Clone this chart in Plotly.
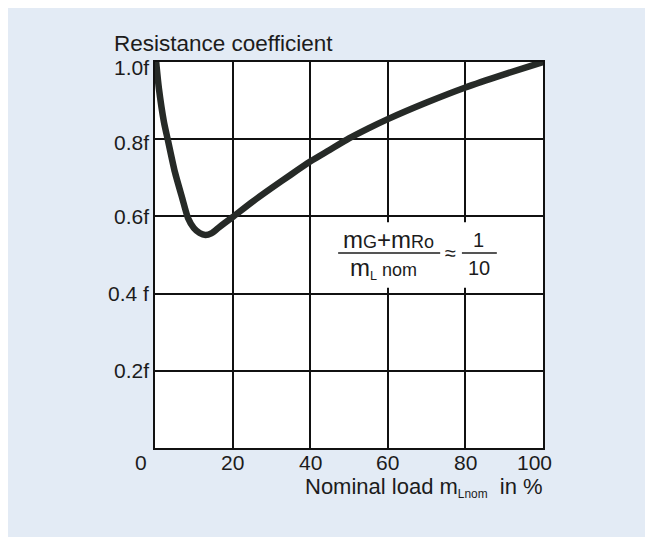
import plotly.graph_objects as go

# ---- data ----
load_pct = [0.3, 1.0, 2.3, 3.4, 5.1, 7.0, 8.5, 10.0, 11.5, 13.0, 14.5, 16.3, 18.0, 20.0,
            25, 30, 35, 40, 45, 50, 55, 60, 70, 80, 90, 100]
resist_coef = [1.0, 0.932, 0.845, 0.794, 0.716, 0.648, 0.596, 0.570, 0.557, 0.552, 0.556,
               0.570, 0.583, 0.598, 0.637, 0.673, 0.708, 0.742, 0.772, 0.802, 0.828,
               0.852, 0.895, 0.934, 0.968, 1.0]

x_tick_vals = [0, 20, 40, 60, 80, 100]
x_tick_text = ["0", "20", "40", "60", "80", "100"]
y_tick_vals = [0.2, 0.4, 0.6, 0.8, 1.0]
y_tick_text = ["0.2f", "0.4 f", "0.6f", "0.8f", "1.0f"]

FONT = "Liberation Sans, Arial, Helvetica, sans-serif"
INK = "#1c1c1c"

fig = go.Figure()
fig.add_trace(go.Scatter(
    x=load_pct, y=resist_coef, mode="lines",
    line=dict(color="#262a27", width=6.5, shape="spline", smoothing=0.6),
    hoverinfo="skip", showlegend=False,
))

fig.update_layout(
    width=653, height=537,
    margin=dict(l=147, r=118, t=54, b=97),
    paper_bgcolor="#e3ebf5",
    plot_bgcolor="white",
    showlegend=False,
    font=dict(family=FONT, color=INK),
    xaxis=dict(range=[0, 100], tickvals=[20, 40, 60, 80], showticklabels=False,
               ticks="", showgrid=True, gridcolor="#111", gridwidth=1.6,
               zeroline=False, showline=True, linecolor="#111", linewidth=2, mirror=True,
               fixedrange=True),
    yaxis=dict(range=[0, 1.0], tickvals=[0.2, 0.4, 0.6, 0.8], showticklabels=False,
               ticks="", showgrid=True, gridcolor="#111", gridwidth=1.6,
               zeroline=False, showline=True, linecolor="#111", linewidth=2, mirror=True,
               fixedrange=True),
)

shapes = [
    # white box behind the formula (interrupts the grid)
    dict(type="rect", xref="x", yref="y", x0=44, x1=93, y0=0.415, y1=0.585,
         fillcolor="white", line=dict(width=0), layer="above"),
    # fraction bars
    dict(type="line", xref="x", yref="y", x0=47.2, x1=73.5, y0=0.505, y1=0.505,
         line=dict(color=INK, width=1.4), layer="above"),
    dict(type="line", xref="x", yref="y", x0=79.1, x1=88.1, y0=0.505, y1=0.505,
         line=dict(color=INK, width=1.4), layer="above"),
]
fig.update_layout(shapes=shapes)

ann = []
# x tick labels
x_shift = {0: -14, 100: -9}
for v, t in zip(x_tick_vals, x_tick_text):
    ann.append(dict(x=v, y=0, xref="x", yref="paper", text=t, showarrow=False,
                    xanchor="center", yanchor="middle", yshift=-14,
                    xshift=x_shift.get(v, 0), font=dict(size=21, color=INK)))
# y tick labels
y_shift = {1.0: -5, 0.8: -3}
for v, t in zip(y_tick_vals, y_tick_text):
    ann.append(dict(x=0, y=v, xref="paper", yref="y", text=t, showarrow=False,
                    xanchor="right", yanchor="middle", xshift=-4,
                    yshift=y_shift.get(v, 0), font=dict(size=21, color=INK)))
# axis titles
ann.append(dict(x=-0.111, y=1.049, xref="paper", yref="paper",
                text="Resistance coefficient", showarrow=False,
                xanchor="left", yanchor="middle", font=dict(size=22.5, color=INK)))
ann.append(dict(x=1.005, y=-0.103, xref="paper", yref="paper",
                text="Nominal load m<span style='font-size:17px'><sub>Lnom</sub></span>\u00a0\u00a0in\u00a0%",
                showarrow=False, xanchor="right", yanchor="middle",
                font=dict(size=22, color=INK)))
# formula
sm = "<span style='font-size:18px'>{}</span>"
ann.append(dict(x=60.3, y=0.539, xref="x", yref="y",
                text="m" + sm.format("G") + "+m" + sm.format("Ro"),
                showarrow=False, xanchor="center", yanchor="middle",
                font=dict(size=24, color=INK)))
ann.append(dict(x=58.8, y=0.466, xref="x", yref="y",
                text="m" + "<span style='font-size:18px'><sub>L</sub> nom</span>",
                showarrow=False, xanchor="center", yanchor="middle",
                font=dict(size=24, color=INK)))
ann.append(dict(x=76.2, y=0.505, xref="x", yref="y", text="\u2248", showarrow=False,
                xanchor="center", yanchor="middle", font=dict(size=20, color=INK)))
ann.append(dict(x=83.5, y=0.539, xref="x", yref="y", text="1", showarrow=False,
                xanchor="center", yanchor="middle", font=dict(size=20, color=INK)))
ann.append(dict(x=83.5, y=0.466, xref="x", yref="y", text="10", showarrow=False,
                xanchor="center", yanchor="middle", font=dict(size=20, color=INK)))
fig.update_layout(annotations=ann)

fig.write_html("out.html")
